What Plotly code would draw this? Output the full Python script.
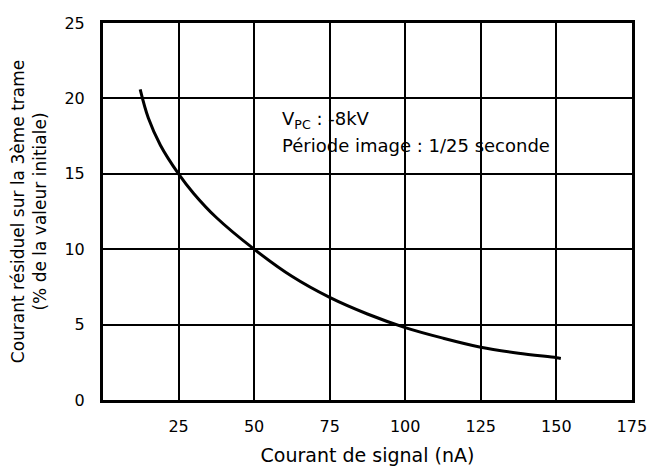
import plotly.graph_objects as go

signal_nA = [12.3, 15, 19, 25, 30, 37.5, 50, 62.5, 75, 87.5, 100, 112.5, 125, 137.5, 150, 151.5]
residual_pct = [20.6, 18.7, 16.9, 15.0, 13.7, 12.1, 10.0, 8.2, 6.8, 5.7, 4.8, 4.1, 3.5, 3.1, 2.8, 2.75]

x_ticks = [25, 50, 75, 100, 125, 150, 175]
y_ticks = [0, 5, 10, 15, 20, 25]

font_family = "DejaVu Sans, Open Sans, sans-serif"

fig = go.Figure()
fig.add_trace(go.Scatter(
    x=signal_nA, y=residual_pct, mode="lines",
    line=dict(color="black", width=3, shape="spline", smoothing=1.0),
    showlegend=False, hoverinfo="skip",
))

fig.add_annotation(
    x=58.5, y=18.6, xref="x", yref="y", xanchor="left", yanchor="middle",
    text="V<sub>PC</sub> : -8kV", showarrow=False,
    font=dict(family=font_family, size=18, color="black"),
)
fig.add_annotation(
    x=58.5, y=16.9, xref="x", yref="y", xanchor="left", yanchor="middle",
    text="Période image : 1/25 seconde", showarrow=False,
    font=dict(family=font_family, size=18, color="black"),
)

fig.update_layout(
    width=647, height=471,
    margin=dict(l=103, r=15, t=23, b=71),
    paper_bgcolor="white", plot_bgcolor="white",
    font=dict(family=font_family, size=16, color="black"),
    xaxis=dict(
        range=[0, 175.05], tickvals=x_ticks, ticktext=[str(v) for v in x_ticks],
        showgrid=True, gridcolor="black", gridwidth=2,
        showline=True, linecolor="black", linewidth=3, mirror=True,
        zeroline=False, ticks="", ticklabelstandoff=10, automargin=False,
        ticklabeloverflow="allow",
        title=dict(text="Courant de signal (nA)", font=dict(size=19), standoff=14),
    ),
    yaxis=dict(
        range=[-0.005, 25.005], tickvals=y_ticks, ticktext=[str(v) for v in y_ticks],
        showgrid=True, gridcolor="black", gridwidth=2,
        showline=True, linecolor="black", linewidth=3, mirror=True,
        zeroline=False, ticks="", ticklabelstandoff=12, automargin=False,
        title=dict(text="Courant résiduel sur la 3ème trame<br>(% de la valeur initiale)",
                   font=dict(size=17), standoff=14),
    ),
)

fig.write_html("out.html", config={"displayModeBar": False},
               post_script="document.body.style.margin='0px';")
